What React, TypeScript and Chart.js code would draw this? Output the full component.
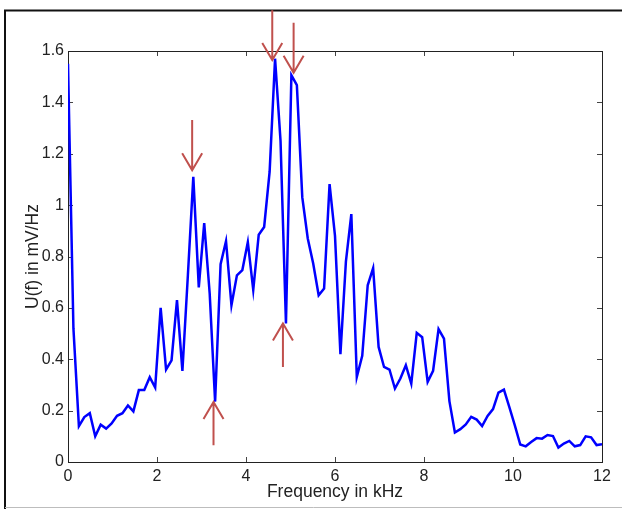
import React, { useEffect, useRef } from 'react';
import { Chart, registerables } from 'chart.js';

Chart.register(...registerables);

// Frequency samples (kHz)
const FREQ_KHZ = [
  0, 0.122, 0.245, 0.367, 0.49, 0.612, 0.735, 0.857, 0.98, 1.102,
  1.224, 1.347, 1.469, 1.592, 1.714, 1.837, 1.959, 2.082, 2.204, 2.327,
  2.449, 2.571, 2.694, 2.816, 2.939, 3.061, 3.184, 3.306, 3.429, 3.551,
  3.673, 3.796, 3.918, 4.041, 4.163, 4.286, 4.408, 4.531, 4.653, 4.776,
  4.898, 5.02, 5.143, 5.265, 5.388, 5.51, 5.633, 5.755, 5.878, 6.0,
  6.122, 6.245, 6.367, 6.49, 6.612, 6.735, 6.857, 6.98, 7.102, 7.224,
  7.347, 7.469, 7.592, 7.714, 7.837, 7.959, 8.082, 8.204, 8.327, 8.449,
  8.571, 8.694, 8.816, 8.939, 9.061, 9.184, 9.306, 9.429, 9.551, 9.673,
  9.796, 9.918, 10.041, 10.163, 10.286, 10.408, 10.531, 10.653, 10.776, 10.898,
  11.02, 11.143, 11.265, 11.388, 11.51, 11.633, 11.755, 11.878, 12.0,
];

// U(f) in mV/Hz
const U_MV_HZ = [
  1.55, 0.52, 0.14, 0.175, 0.19, 0.1, 0.145, 0.13, 0.15, 0.18,
  0.19, 0.22, 0.197, 0.28, 0.28, 0.33, 0.29, 0.6, 0.36, 0.396,
  0.63, 0.355, 0.727, 1.11, 0.68, 0.93, 0.656, 0.235, 0.77, 0.86,
  0.61, 0.727, 0.747, 0.856, 0.67, 0.885, 0.915, 1.13, 1.57, 1.25,
  0.539, 1.506, 1.467, 1.03, 0.87, 0.773, 0.649, 0.675, 1.082, 0.88,
  0.42, 0.78, 0.965, 0.331, 0.413, 0.688, 0.755, 0.448, 0.37, 0.36,
  0.286, 0.325, 0.377, 0.305, 0.503, 0.486, 0.312, 0.355, 0.517, 0.48,
  0.237, 0.115, 0.128, 0.146, 0.176, 0.165, 0.14, 0.179, 0.206, 0.27,
  0.282, 0.214, 0.143, 0.068, 0.061, 0.078, 0.093, 0.091, 0.105, 0.101,
  0.056, 0.072, 0.082, 0.061, 0.066, 0.1, 0.096, 0.066, 0.069,
];

const X_TICKS = [0, 2, 4, 6, 8, 10, 12];
const Y_TICKS = [0, 0.2, 0.4, 0.6, 0.8, 1, 1.2, 1.4, 1.6];

// Annotation arrows (data coordinates): x, tip value, tail value
const ARROW_X = [2.79, 3.27, 4.59, 5.07, 4.83];
const ARROW_TIP = [1.136, 0.234, 1.565, 1.515, 0.539];
const ARROW_TAIL = [1.331, 0.065, 1.759, 1.71, 0.37];

const FONT = "'Liberation Sans', Arial, sans-serif";

export default function App() {
  const ref = useRef<HTMLCanvasElement>(null);

  useEffect(() => {
    const canvas = ref.current!;
    const framePlugin = {
      id: 'frame',
      beforeDraw(chart: any) {
        const c = chart.ctx;
        c.save();
        c.fillStyle = '#ffffff';
        c.fillRect(0, 0, chart.width, chart.height);
        c.strokeStyle = '#111111';
        c.lineWidth = 2;
        c.beginPath();
        c.moveTo(622, 10.5);
        c.lineTo(5, 10.5);
        c.lineTo(5, 509);
        c.stroke();
        c.strokeStyle = '#bdbdbd';
        c.lineWidth = 1;
        c.beginPath();
        c.moveTo(5, 507.5);
        c.lineTo(622, 507.5);
        c.stroke();
        c.restore();
      },
      beforeDatasetsDraw(chart: any) {
        const c = chart.ctx;
        const a = chart.chartArea;
        const xs = chart.scales.x;
        const ys = chart.scales.y;
        c.save();
        c.strokeStyle = '#444444';
        c.lineWidth = 1;
        c.beginPath();
        X_TICKS.forEach((v) => {
          const px = Math.round(xs.getPixelForValue(v)) + 0.5;
          c.moveTo(px, a.bottom);
          c.lineTo(px, a.bottom - 5);
          c.moveTo(px, a.top);
          c.lineTo(px, a.top + 5);
        });
        Y_TICKS.forEach((v) => {
          const py = Math.round(ys.getPixelForValue(v)) + 0.5;
          c.moveTo(a.left, py);
          c.lineTo(a.left + 5, py);
          c.moveTo(a.right, py);
          c.lineTo(a.right - 5, py);
        });
        c.stroke();
        c.strokeStyle = '#222222';
        c.strokeRect(Math.round(a.left) + 0.5, Math.round(a.top) + 0.5,
          Math.round(a.right - a.left), Math.round(a.bottom - a.top));
        c.restore();
      },
      afterDraw(chart: any) {
        const c = chart.ctx;
        const xs = chart.scales.x;
        const ys = chart.scales.y;
        c.save();
        c.strokeStyle = '#c0504d';
        c.lineWidth = 2;
        ARROW_X.forEach((xv, i) => {
          const px = xs.getPixelForValue(xv);
          const tip = ys.getPixelForValue(ARROW_TIP[i]);
          const tail = ys.getPixelForValue(ARROW_TAIL[i]);
          const dir = tail > tip ? 1 : -1;
          c.beginPath();
          c.moveTo(px, tail);
          c.lineTo(px, tip);
          c.moveTo(px - 10, tip + dir * 17);
          c.lineTo(px, tip);
          c.lineTo(px + 10, tip + dir * 17);
          c.stroke();
        });
        c.restore();
      },
    };

    const chart = new Chart(canvas, {
      type: 'line',
      data: {
        datasets: [
          {
            data: FREQ_KHZ.map((f, i) => ({ x: f, y: U_MV_HZ[i] })),
            borderColor: '#0000ff',
            borderWidth: 2.5,
            pointRadius: 0,
            tension: 0,
            fill: false,
          },
        ],
      },
      options: {
        animation: false,
        responsive: false,
        devicePixelRatio: 1,
        layout: { padding: { left: 0, top: 51, right: 20, bottom: 0 } },
        plugins: {
          legend: { display: false },
          tooltip: { enabled: false },
        },
        scales: {
          x: {
            type: 'linear',
            min: 0,
            max: 12,
            afterBuildTicks: (s: any) => {
              s.ticks = X_TICKS.map((v) => ({ value: v }));
            },
            afterFit: (s: any) => {
              s.height = 47;
            },
            grid: { display: false, drawTicks: false },
            border: { display: false },
            ticks: {
              padding: 5,
              color: '#222222',
              font: { family: FONT, size: 16 },
              maxRotation: 0,
              callback: (v: any) => String(v),
            },
            title: {
              display: true,
              text: 'Frequency in kHz',
              color: '#222222',
              font: { family: FONT, size: 17.5 },
              padding: { top: 0, bottom: 6 },
            },
          },
          y: {
            type: 'linear',
            min: 0,
            max: 1.6,
            afterBuildTicks: (s: any) => {
              s.ticks = Y_TICKS.map((v) => ({ value: v }));
            },
            afterFit: (s: any) => {
              s.width = 68;
            },
            grid: { display: false, drawTicks: false },
            border: { display: false },
            ticks: {
              padding: 4,
              color: '#222222',
              font: { family: FONT, size: 16 },
              callback: (v: any) => String(Math.round(v * 10) / 10),
            },
            title: {
              display: true,
              text: 'U(f) in mV/Hz',
              color: '#222222',
              font: { family: FONT, size: 17.5 },
              padding: { top: 23, bottom: 0 },
            },
          },
        },
      },
      plugins: [framePlugin],
    });
    return () => chart.destroy();
  }, []);

  return (
    <div style={{ position: 'fixed', left: 0, top: 0, width: 622, height: 509, background: '#fff' }}>
      <canvas ref={ref} width={622} height={509} style={{ display: 'block' }} />
    </div>
  );
}
